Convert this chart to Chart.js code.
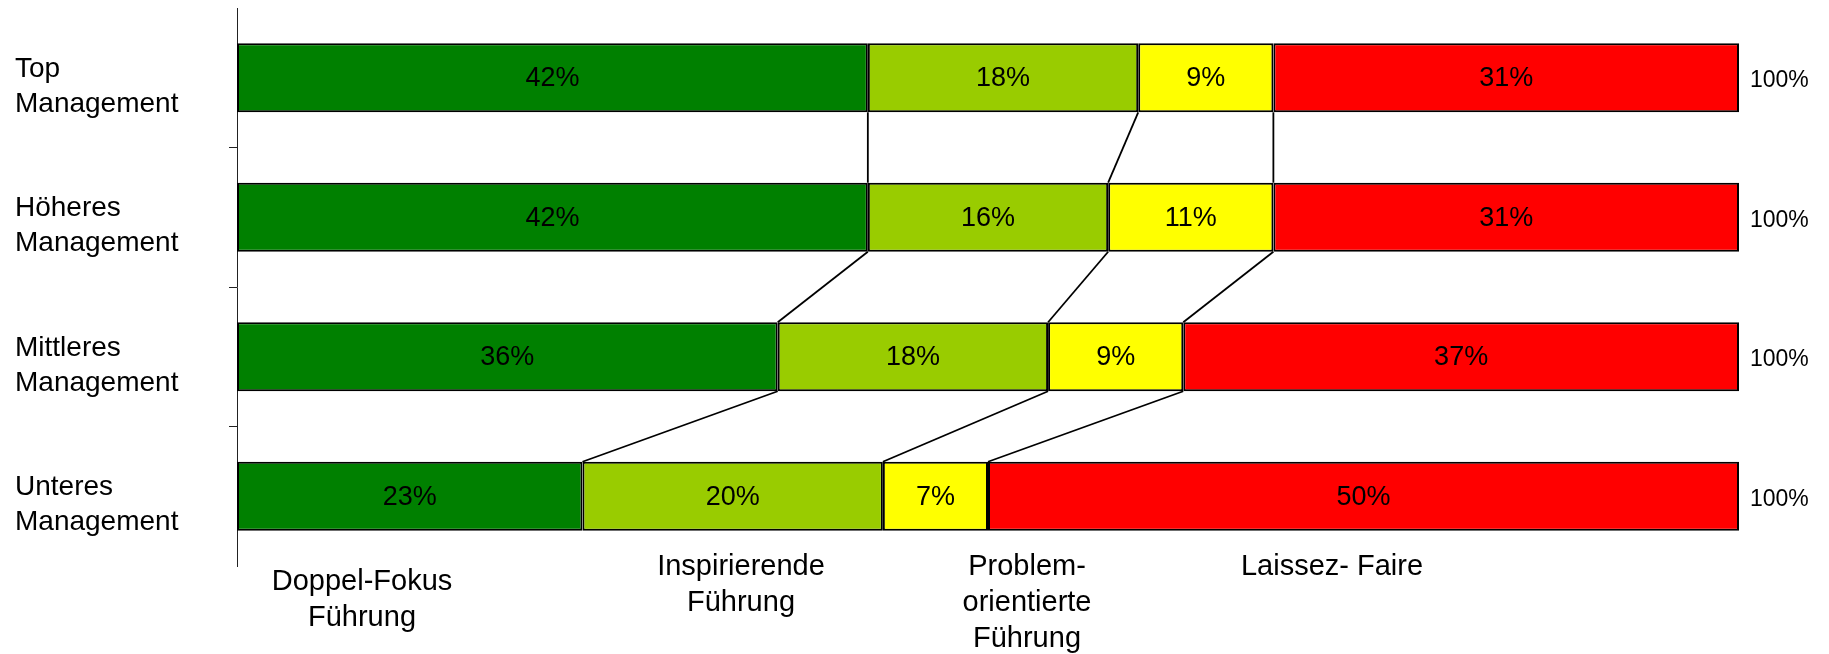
<!DOCTYPE html>
<html>
<head>
<meta charset="utf-8">
<script src="https://cdn.jsdelivr.net/npm/chart.js@4"></script>
<style>
    html, body {margin: 0; padding: 0; background: #fff;}
    #wrap {width: 1829px; height: 654px; position: relative;}
</style>
</head>
<body>
<div id="wrap"><canvas id="styleChart"></canvas></div>
<script>
const levels = [['Top', 'Management'], ['Höheres', 'Management'], ['Mittleres', 'Management'], ['Unteres', 'Management']]
const styleNames = [['Doppel-Fokus', 'Führung'], ['Inspirierende', 'Führung'], ['Problem-', 'orientierte', 'Führung'], ['Laissez- Faire']]
const doppelFokus = [42, 42, 36, 23]
const inspirierend = [18, 16, 18, 20]
const problemOrientiert = [9, 11, 9, 7]
const laissezFaire = [31, 31, 37, 50]

const styleColors = ['#008000', '#99cc00', '#ffff00', '#ff0000']
const fontFamily = '"Liberation Sans", Arial, sans-serif'

// connector lines between the segment boundaries of neighbouring bars
const connectorLines = {
    id: 'connectorLines',
    afterDatasetsDraw(chart) {
        const ctx = chart.ctx
        ctx.save()
        ctx.strokeStyle = '#000'
        ctx.lineWidth = 1.8
        for (let d = 0; d < chart.data.datasets.length - 1; d++) {
            const bars = chart.getDatasetMeta(d).data
            for (let i = 0; i < bars.length - 1; i++) {
                const a = bars[i]
                const b = bars[i + 1]
                ctx.beginPath()
                ctx.moveTo(a.x, a.y + a.height / 2)
                ctx.lineTo(b.x, b.y - b.height / 2)
                ctx.stroke()
            }
        }
        ctx.restore()
    },
}

const segmentLabels = {
    id: 'segmentLabels',
    afterDatasetsDraw(chart) {
        const ctx = chart.ctx
        ctx.save()
        ctx.fillStyle = '#000'
        ctx.font = `27px ${fontFamily}`
        ctx.textAlign = 'center'
        ctx.textBaseline = 'middle'
        chart.data.datasets.forEach((dataset, d) => {
            chart.getDatasetMeta(d).data.forEach((bar, i) => {
                const c = bar.getCenterPoint()
                ctx.fillText(`${dataset.data[i]}%`, c.x, c.y + 1)
            })
        })

        // row totals on the right
        ctx.font = `23px ${fontFamily}`
        ctx.textAlign = 'left'
        const area = chart.chartArea
        chart.getDatasetMeta(0).data.forEach((bar, i) => {
            const total = chart.data.datasets.reduce((sum, ds) => sum + ds.data[i], 0)
            ctx.fillText(`${total}%`, area.right + 11, bar.y + 3)
        })
        ctx.restore()
    },
}

// level names, left aligned, drawn here so the axis keeps its full height
const levelLabels = {
    id: 'levelLabels',
    afterDraw(chart, args, options) {
        const ctx = chart.ctx
        const yScale = chart.scales.y
        ctx.save()
        ctx.fillStyle = '#000'
        ctx.font = `28px ${fontFamily}`
        ctx.textAlign = 'left'
        ctx.textBaseline = 'middle'
        levels.forEach((lines, i) => {
            const mid = yScale.getPixelForTick(i) + options.shift
            const top = mid - (lines.length - 1) * options.lineHeight / 2
            lines.forEach((line, j) => ctx.fillText(line, options.x, top + j * options.lineHeight))
        })
        ctx.restore()
    },
}

const styleLegend = {
    id: 'styleLegend',
    afterDraw(chart, args, options) {
        const ctx = chart.ctx
        ctx.save()
        ctx.fillStyle = '#000'
        ctx.font = `29px ${fontFamily}`
        ctx.textAlign = 'center'
        ctx.textBaseline = 'middle'
        styleNames.forEach((lines, i) => {
            const pos = options.positions[i]
            lines.forEach((line, j) => {
                ctx.fillText(line, pos.x, pos.y + j * options.lineHeight)
            })
        })
        ctx.restore()
    },
}

new Chart(document.getElementById('styleChart'), {
    type: 'bar',
    plugins: [connectorLines, segmentLabels, levelLabels, styleLegend],
    data: {
        labels: levels,
        datasets: [
            {label: styleNames[0].join(' '), data: doppelFokus, backgroundColor: styleColors[0]},
            {label: styleNames[1].join(' '), data: inspirierend, backgroundColor: styleColors[1]},
            {label: styleNames[2].join(' '), data: problemOrientiert, backgroundColor: styleColors[2]},
            {label: styleNames[3].join(' '), data: laissezFaire, backgroundColor: styleColors[3]},
        ],
    },
    options: {
        indexAxis: 'y',
        responsive: true,
        maintainAspectRatio: false,
        animation: false,
        layout: {padding: {left: 16, top: 8, right: 90, bottom: 88}},
        datasets: {
            bar: {
                borderColor: '#000',
                borderWidth: 2,
                borderSkipped: false,
                categoryPercentage: 1,
                barPercentage: 0.495,
            },
        },
        plugins: {
            legend: {display: false},
            tooltip: {enabled: false},
            levelLabels: {x: 15, shift: 9, lineHeight: 35},
            styleLegend: {
                lineHeight: 36,
                positions: [
                    {x: 362, y: 582},
                    {x: 741, y: 567},
                    {x: 1027, y: 567},
                    {x: 1332, y: 567},
                ],
            },
        },
        scales: {
            x: {
                display: false,
                stacked: true,
                min: 0,
                max: 100,
            },
            y: {
                stacked: true,
                afterFit: scale => { scale.width = 221 },
                border: {display: true, color: '#222', width: 1},
                grid: {
                    offset: true,
                    drawOnChartArea: false,
                    tickLength: 8,
                    color: ctx => (ctx.index === undefined || ctx.index === 0) ? 'rgba(0,0,0,0)' : '#222',
                },
                ticks: {display: false},
            },
        },
    },
})
</script>
</body>
</html>
